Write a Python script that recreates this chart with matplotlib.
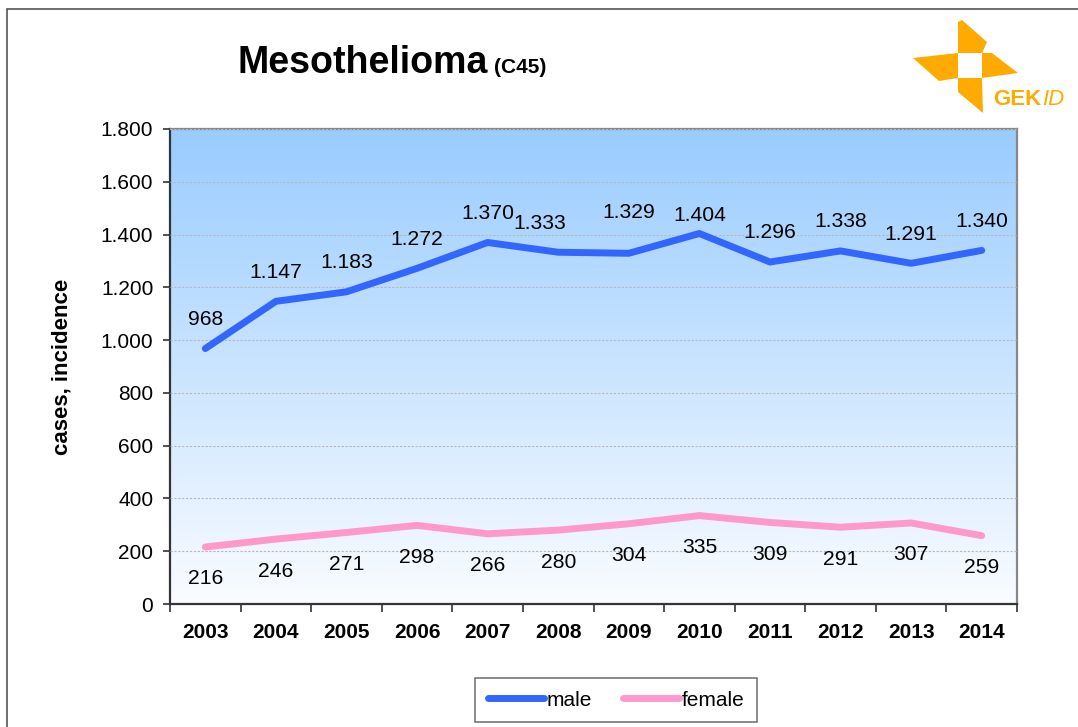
import matplotlib
matplotlib.use("Agg")
import matplotlib.pyplot as plt
import numpy as np
from matplotlib.patches import Polygon, Rectangle
from matplotlib.ticker import FuncFormatter, MultipleLocator
from matplotlib.lines import Line2D

years = ["2003", "2004", "2005", "2006", "2007", "2008", "2009", "2010", "2011", "2012", "2013", "2014"]
male = [968, 1147, 1183, 1272, 1370, 1333, 1329, 1404, 1296, 1338, 1291, 1340]
female = [216, 246, 271, 298, 266, 280, 304, 335, 309, 291, 307, 259]

plt.rcParams['font.family'] = ['Liberation Sans', 'DejaVu Sans']

W, H = 1078, 727
fig = plt.figure(figsize=(W / 100, H / 100), dpi=100)
fig.patch.set_facecolor('white')

# outer frame
fig.patches.append(Rectangle((7 / W, 0 - 0.01), 1.2, (H - 9) / H + 0.01, transform=fig.transFigure,
                             fill=False, edgecolor='#555555', linewidth=1.2))

ax = fig.add_axes([170 / W, 1 - 604 / H, (1017 - 170) / W, (604 - 129) / H])
x = np.arange(len(years))
ax.set_xlim(-0.5, len(years) - 0.5)
ax.set_ylim(0, 1800)

# gradient background
grad = np.linspace(0, 1, 256).reshape(-1, 1)
top = np.array([0x99, 0xCC, 0xFF]) / 255
bot = np.array([0xFA, 0xFC, 0xFF]) / 255
img = bot[None, None, :] * (1 - grad[:, :, None]) + top[None, None, :] * grad[:, :, None]
ax.imshow(img, extent=[-0.5, len(years) - 0.5, 0, 1800], origin='lower', aspect='auto', zorder=0)

ax.yaxis.set_major_locator(MultipleLocator(200))
ax.yaxis.grid(True, color='#b8b8b8', linestyle=(0, (2, 1.5)), linewidth=0.8, zorder=1)
ax.set_axisbelow(False)

ax.plot(x, male, color='#3366FF', linewidth=5, solid_capstyle='round', zorder=3)
ax.plot(x, female, color='#FF99CC', linewidth=5, solid_capstyle='round', zorder=3)

# data labels
nudge = {5: (-18, 0), 6: (0, 12), 7: (0, -11)}
for i, v in enumerate(male):
    dx, dy = nudge.get(i, (0, 0))
    ax.annotate(f"{v:,}".replace(",", "."), (x[i], v), xytext=(dx * 0.72, (29 + dy) * 0.72),
                textcoords='offset points', ha='center', va='center', fontsize=15.2, color='black', zorder=4)
for i, v in enumerate(female):
    ax.annotate(f"{v}", (x[i], v), xytext=(0, -32 * 0.72),
                textcoords='offset points', ha='center', va='center', fontsize=15.2, color='black', zorder=4)

# axes styling
ax.yaxis.set_major_formatter(FuncFormatter(lambda v, p: f"{int(v):,}".replace(",", ".")))
ax.tick_params(axis='y', labelsize=15, length=5, width=1.2, color='#333333', pad=7)
ax.set_xticks(x)
ax.set_xticklabels(years, fontweight='bold', fontsize=15)
ax.set_xticks(np.arange(-0.5, len(years)), minor=True)
ax.tick_params(axis='x', which='major', length=0, pad=14)
ax.tick_params(axis='x', which='minor', length=6, width=1.2, color='#333333')
for s in ['left', 'bottom']:
    ax.spines[s].set_color('#333333')
    ax.spines[s].set_linewidth(1.6)
for s in ['top', 'right']:
    ax.spines[s].set_color('#888888')
    ax.spines[s].set_linewidth(1.6)

ax.set_ylabel("cases, incidence", fontweight='bold', fontsize=16, labelpad=20)

# title
fig.text(238 / W, 1 - 73 / H, "Mesothelioma", fontsize=27, fontweight='bold', ha='left', va='baseline')
fig.text(494 / W, 1 - 73 / H, "(C45)", fontsize=15, fontweight='bold', ha='left', va='baseline')

# legend
handles = [Line2D([0], [0], color='#3366FF', lw=5, solid_capstyle='round'),
           Line2D([0], [0], color='#FF99CC', lw=5, solid_capstyle='round')]
leg = fig.legend(handles, ['male', 'female'], loc='center', bbox_to_anchor=(616 / W, 1 - 700 / H),
                 ncol=2, frameon=True, fancybox=False, fontsize=15, handlelength=2.7,
                 handletextpad=0.1, columnspacing=1.5, borderpad=0.6, borderaxespad=0)
leg.get_frame().set_edgecolor('#555555')
leg.get_frame().set_linewidth(1.2)

# logo
orange = '#FFAA00'
def P(pts):
    return [(px / W, 1 - py / H) for px, py in pts]
pieces = [
    [(962, 20), (987, 42), (982, 53), (958, 53), (958, 22)],
    [(982, 53), (992, 53), (1018, 73), (982, 78)],
    [(958, 78), (982, 78), (983, 113), (958, 92)],
    [(913, 58), (958, 53), (958, 78), (939, 81)],
]
for pc in pieces:
    fig.patches.append(Polygon(P(pc), closed=True, transform=fig.transFigure,
                               facecolor=orange, edgecolor='none'))
logo_font = ['Liberation Sans Narrow', 'Liberation Sans', 'DejaVu Sans']
t1 = fig.text(993 / W, 1 - 105 / H, "GEK", fontsize=16, fontweight='bold', color=orange,
              ha='left', va='baseline', family=logo_font)
r = fig.canvas.get_renderer()
bb = t1.get_window_extent(renderer=r)
fig.text(bb.x1 / W + 0.5 / W, 1 - 105 / H, "ID", fontsize=16, fontstyle='italic', color=orange,
         ha='left', va='baseline', family=logo_font)

fig.savefig("out.png", dpi=100)
